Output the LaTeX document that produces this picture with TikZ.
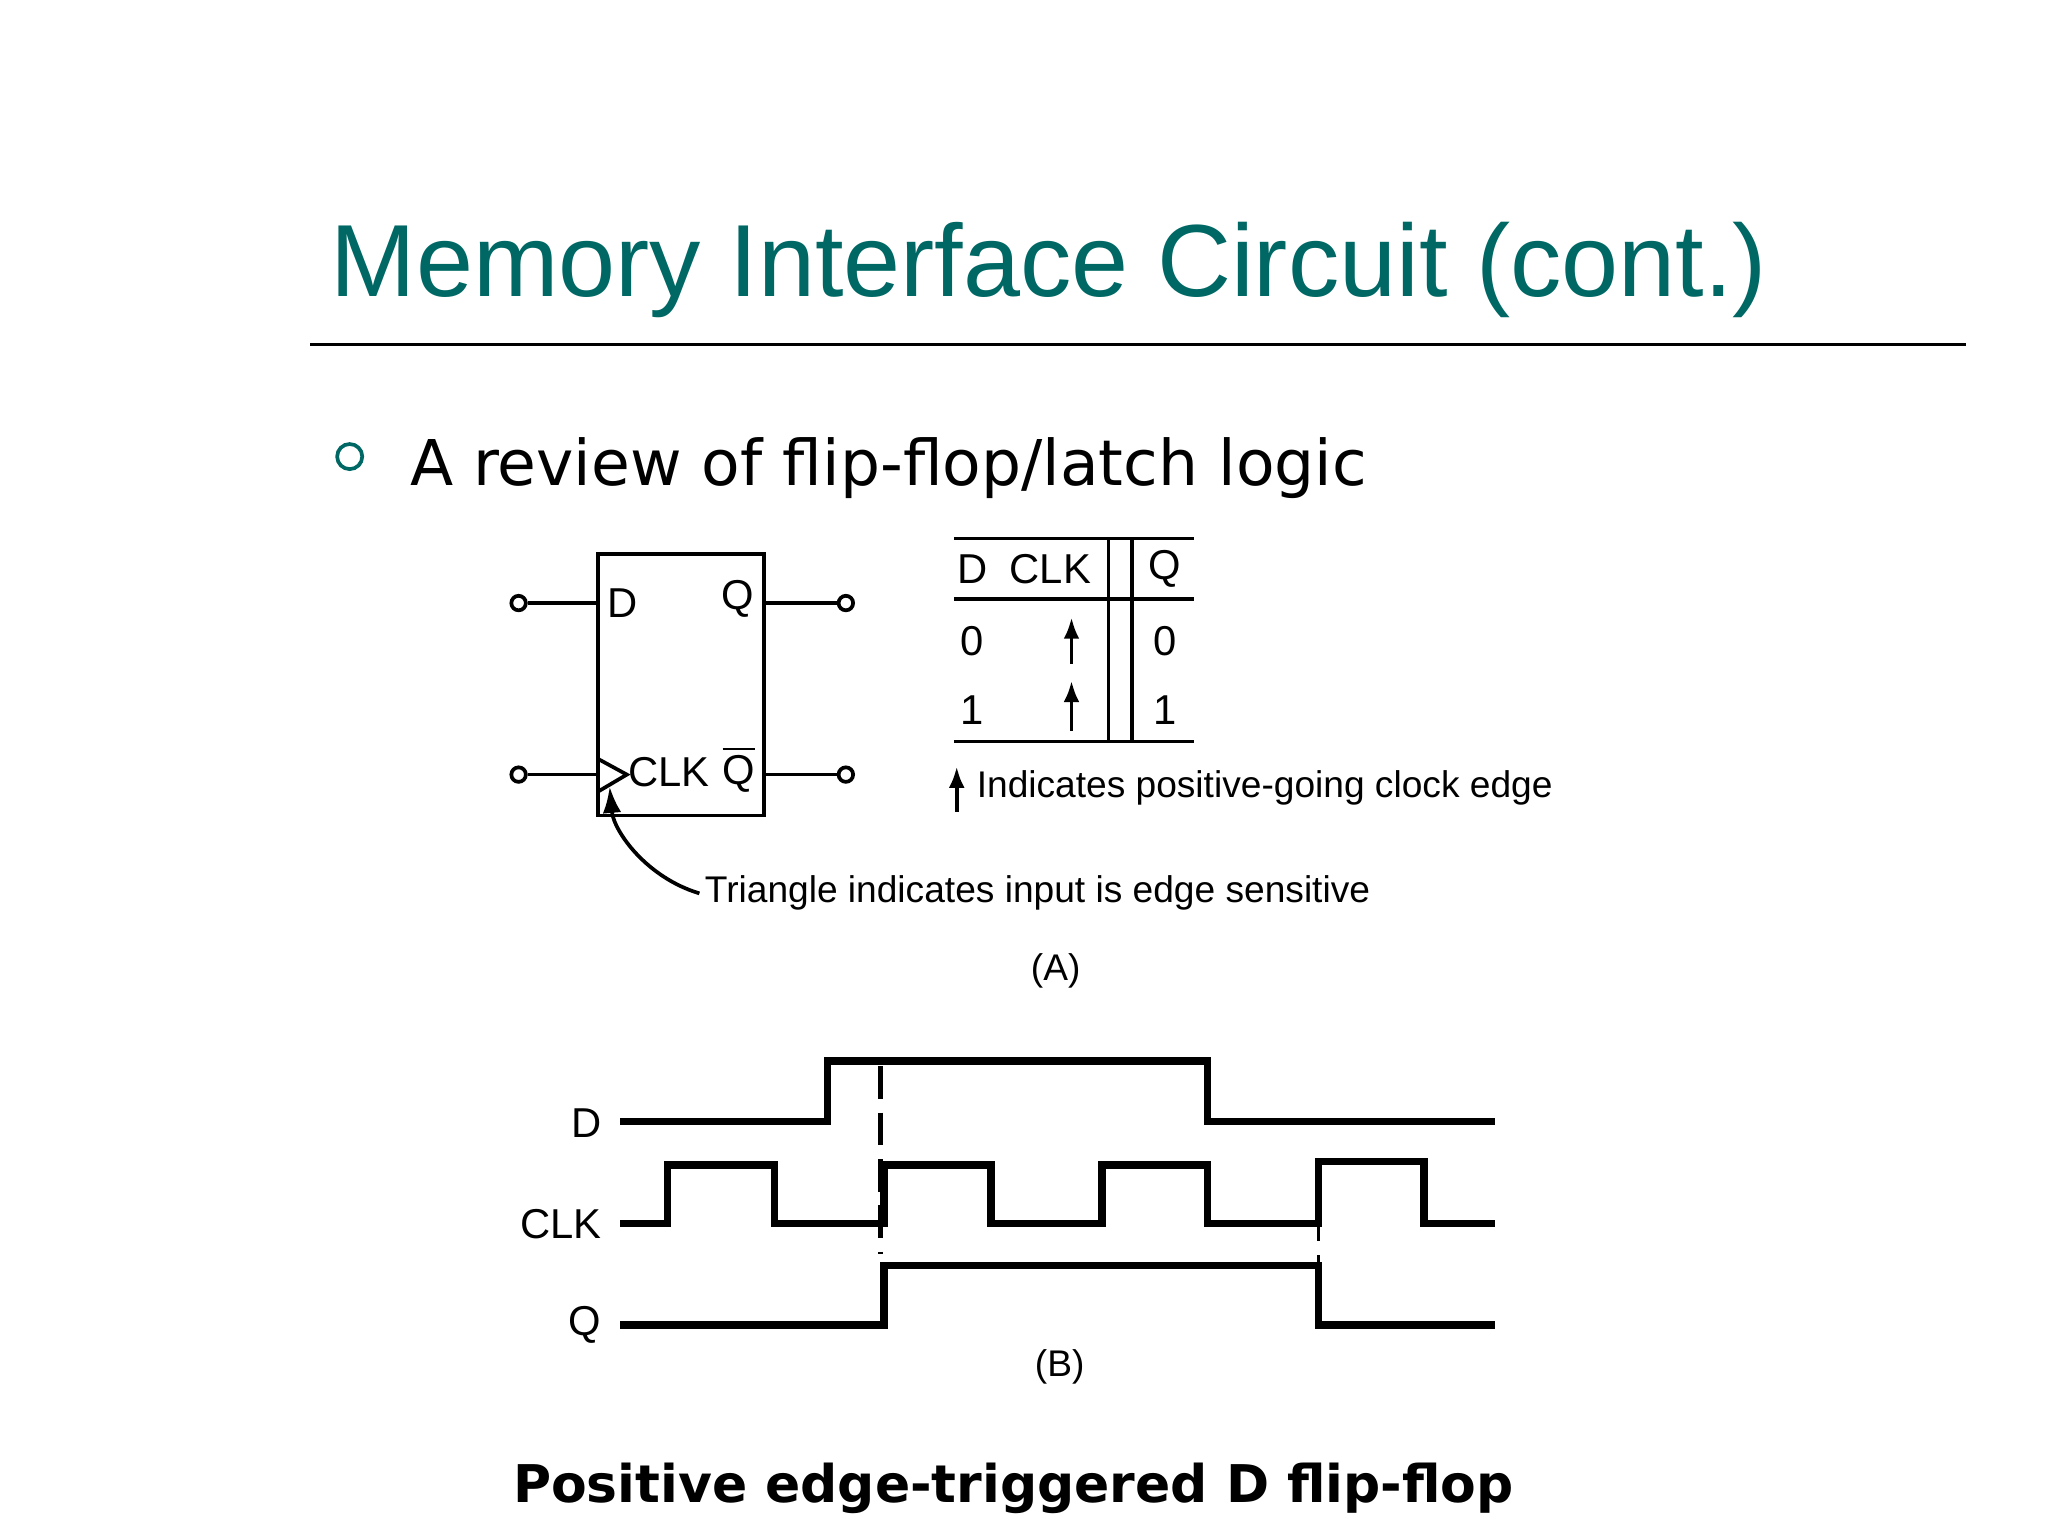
\documentclass[tikz,border=0pt]{standalone}
\usepackage{fontspec}
\setmainfont{Liberation Sans}
\newfontfamily\verd{DejaVu Sans}
\usetikzlibrary{arrows.meta,positioning}
\definecolor{teal}{RGB}{0,104,100}
\tikzset{
  lbl/.style={font=\fontsize{8}{9}\selectfont, inner sep=1pt},
  sym/.style={font=\fontsize{9}{10}\selectfont, inner sep=1pt},
  pin/.style={circle, draw, thick, inner sep=0pt, minimum size=0.11cm},
  wave/.style={line width=1.6pt, line join=miter},
  tick/.style={-{Latex[length=1.6mm,width=1.2mm]}, thick}
}
\begin{document}
\begin{tikzpicture}[x=0.01cm,y=-0.01cm]
\useasboundingbox (0,0) rectangle (1552,1164);

% title and rule
\node[anchor=base west, inner sep=0, text=teal, font=\fontsize{22.1}{26}\selectfont] (title) at (250,225) {Memory Interface Circuit (cont.)};
\draw[thick] (235,261) -- (1490,261);
\node[circle, draw=teal, thick, minimum size=0.19cm, inner sep=0] (bul) at (265,346) {};
\node[anchor=base west, inner sep=0, font=\verd\fontsize{13.6}{15}\selectfont] (sub) at (310,368) {A review of flip-flop/latch logic};

% flip-flop block
\draw[thick] (453,420) rectangle (579,618);
\node[pin] (din) at (393,457) {};
\node[pin] (qout) at (641,457) {};
\node[pin] (cin) at (393,587) {};
\node[pin] (qbout) at (641,587) {};
\coordinate (dpin) at (453,457);
\coordinate (qpin) at (579,457);
\coordinate (cpin) at (453,587);
\coordinate (qbpin) at (579,587);
\draw[thick] (din) -- (dpin);
\draw[thick] (qpin) -- (qout);
\draw[thick] (cin) -- (cpin);
\draw[thick] (qbpin) -- (qbout);
\draw[thick] (453,575) -- (475,587) -- (453,600);
\node[sym] (ld) at (472,457) {D};
\node[sym] (lq) at (559,454) {Q};
\node[sym] (lclk) at (507,585) {CLK};
\node[sym] (lqb) at (560,583) {$\overline{\mbox{Q}}$};
\node[lbl, anchor=west] (tri) at (530,677) {Triangle indicates input is edge sensitive};
\draw[-{Latex[length=2mm,width=1.4mm]}, thick] (tri.west) .. controls (490,665) and (465,630) .. (462,596);

% truth table
\draw[thick] (723,408) -- (905,408);
\draw[thick] (723,454) -- (905,454);
\draw[thick] (723,562) -- (905,562);
\draw[thick] (840,408) -- (840,562);
\draw[thick] (858,408) -- (858,562);
\node[sym] (hd) at (737,431) {D};
\node[sym] (hclk) at (796,431) {CLK};
\node[sym] (hq) at (883,431) {Q};
\node[sym] (d0) at (737,486) {0};
\node[sym] (q0) at (883,486) {0};
\node[sym] (d1) at (737,538) {1};
\node[sym] (q1) at (883,538) {1};
\coordinate (e0a) at (812,503); \coordinate (e0b) at (812,468);
\coordinate (e1a) at (812,554); \coordinate (e1b) at (812,516);
\draw[tick] (e0a) -- (e0b);
\draw[tick] (e1a) -- (e1b);
\coordinate (ka) at (725,615); \coordinate (kb) at (725,581);
\draw[tick] (ka) -- (kb);
\node[lbl, anchor=west] (key) at (736,597) {Indicates positive-going clock edge};
\node[lbl] (capa) at (800,736) {(A)};

% timing diagram
\node[sym, anchor=east] (wd) at (460,851) {D};
\node[sym, anchor=east] (wclk) at (460,928) {CLK};
\node[sym, anchor=east] (wq) at (460,1004) {Q};
\draw[wave] (470,850) -- (627,850) -- (627,804) -- (915,804) -- (915,850) -- (1133,850);
\draw[wave] (470,927) -- (506,927) -- (506,883) -- (587,883) -- (587,927)
  -- (670,927) -- (670,883) -- (751,883) -- (751,927)
  -- (835,927) -- (835,883) -- (915,883) -- (915,927)
  -- (999,927) -- (999,880) -- (1079,880) -- (1079,927) -- (1133,927);
\draw[wave] (470,1004) -- (670,1004) -- (670,959) -- (999,959) -- (999,1004) -- (1133,1004);
\draw[line width=1pt, dash pattern=on 7pt off 3pt] (667,808) -- (667,950);
\draw[semithick, dashed] (999,930) -- (999,957);
\node[lbl] (capb) at (803,1036) {(B)};

\node[font=\verd\bfseries\fontsize{11.2}{13}\selectfont, inner sep=0] (foot) at (768,1128) {Positive edge-triggered D flip-flop};
\end{tikzpicture}
\end{document}
